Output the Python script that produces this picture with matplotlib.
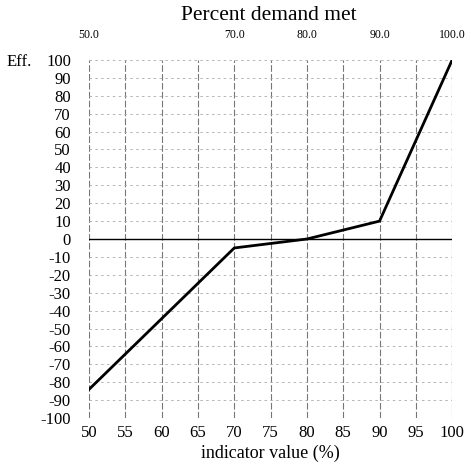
import numpy as np
import matplotlib
matplotlib.use("Agg")
import matplotlib.pyplot as plt

# data
x_vals = [50, 70, 80, 90, 100]
eff_vals = [-84, -5, 0, 10, 100]
top_labels = ["50.0", "70.0", "80.0", "90.0", "100.0"]
x_ticks = list(range(50, 101, 5))
y_ticks = list(range(-100, 101, 10))

plt.rcParams['font.family'] = ['Liberation Serif', 'DejaVu Serif']
plt.rcParams['axes.unicode_minus'] = False

fig = plt.figure(figsize=(4.71, 4.65), dpi=100)
ax = fig.add_axes([0.189, 0.101, 0.771, 0.770])

# grid
for xv in x_ticks:
    ax.axvline(xv, color='#777777', lw=0.8, ls=(0, (6, 2)), zorder=1)
for yv in y_ticks:
    if yv != 0:
        ax.axhline(yv, color='#aaaaaa', lw=0.6, ls=(0, (3, 4)), zorder=1)
ax.axhline(0, color='black', lw=1.0, zorder=2)

ax.plot(x_vals, eff_vals, color='black', lw=2.0, zorder=3)

ax.set_xlim(50, 100)
ax.set_ylim(-100, 100)
ax.set_xticks(x_ticks)
ax.set_yticks(y_ticks)
ax.tick_params(length=0, labelsize=12)
ax.tick_params(axis='y', pad=13)
ax.tick_params(axis='x', pad=5)
for s in ax.spines.values():
    s.set_visible(False)

ax.set_xlabel("indicator value (%)", fontsize=13, labelpad=3)

for xv, lab in zip(x_vals, top_labels):
    ax.text(xv, 110.5, lab, ha='center', va='bottom', fontsize=8.5, clip_on=False)

ax.text(-0.157, 0.995, "Eff.", transform=ax.transAxes, ha='right', va='center', fontsize=12)
fig.text(0.571, 0.966, "Percent demand met", ha='center', va='center', fontsize=15.5)

fig.savefig("out.png", dpi=100)
